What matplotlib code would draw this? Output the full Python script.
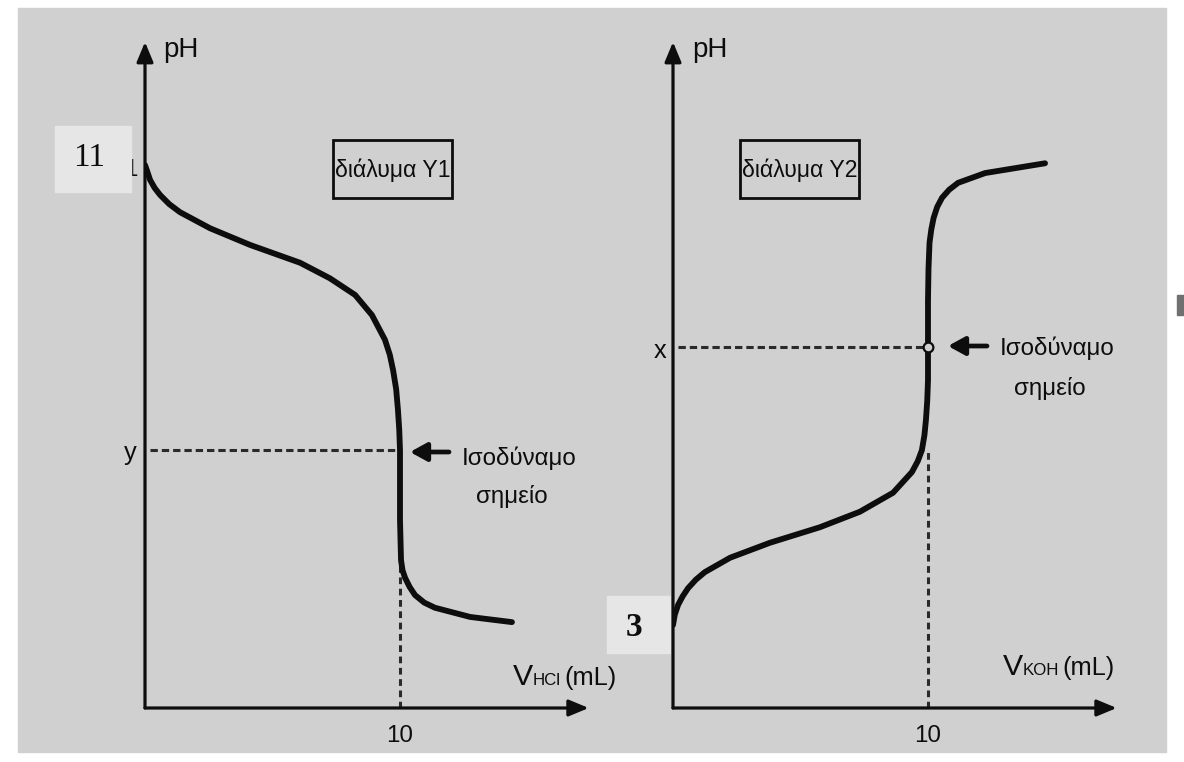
import matplotlib
matplotlib.use('Agg')
import matplotlib.pyplot as plt
from matplotlib.patches import Rectangle
from matplotlib import font_manager as fm

# ---------------- data ----------------
v_hcl = [0, 0.08, 0.2, 0.38, 0.59, 0.95, 1.37, 2.55, 4.12, 6.08, 7.25, 8.24, 8.90,
         9.41, 9.6, 9.73, 9.85, 9.92, 9.97, 10.0, 10.0, 10.04, 10.1, 10.2, 10.38,
         10.59, 10.95, 11.37, 12.75, 14.39]
ph_y1 = [11.0, 10.9, 10.74, 10.6, 10.48, 10.32, 10.18, 9.90, 9.61, 9.30, 9.03, 8.74,
         8.39, 7.96, 7.7, 7.43, 7.1, 6.74, 6.4, 6.04, 4.83, 4.13, 3.95, 3.82, 3.66,
         3.52, 3.39, 3.30, 3.14, 3.05]

v_koh = [0, 0.07, 0.2, 0.38, 0.59, 0.9, 1.25, 2.24, 3.8, 5.76, 7.33, 8.63, 9.37,
         9.6, 9.76, 9.86, 9.92, 9.97, 10.0, 10.0, 10.02, 10.06, 10.13, 10.22, 10.36,
         10.55, 10.83, 11.18, 12.24, 14.59]
ph_y2 = [3.0, 3.18, 3.35, 3.5, 3.64, 3.79, 3.92, 4.17, 4.43, 4.70, 4.97, 5.30, 5.66,
         5.85, 6.04, 6.3, 6.57, 6.9, 7.26, 8.65, 9.2, 9.65, 9.88, 10.08, 10.27,
         10.43, 10.57, 10.69, 10.86, 11.03]

v_eq = 10
ph_eq_y1 = 6.04       # "y"
ph_eq_y1_foot = 4.13  # where the vertical dashed line starts (left)
ph_eq_y2 = 7.83       # "x"
ph_eq_y2_foot = 6.04  # where the vertical dashed line starts (right)
tick_label = '10'
panel_titles = ['διάλυμα Y1', 'διάλυμα Y2']

# ---------------- layout helpers ----------------
W, H = 1184, 762
XPX, YPX = 25.5, 57.5          # px per mL, px per pH unit
AX_Y = 708                     # pixel row of the x axes
XMAX = 17.4
YLO = 11 - (AX_Y - 165) / YPX
YHI = 11 + (165 - 42) / YPX

names = {f.name for f in fm.fontManager.ttflist}
NARROW = 'Liberation Sans Narrow' if 'Liberation Sans Narrow' in names else 'Liberation Sans'
k = 1.0 if NARROW == 'Liberation Sans Narrow' else 0.87
SANS = [NARROW, 'DejaVu Sans']
SERIF = ['Liberation Serif', 'DejaVu Serif']
INK = '#0d0d0d'
BG = '#d0d0d0'

fig = plt.figure(figsize=(W / 100, H / 100), dpi=100)
fig.patch.set_facecolor('white')

bg = fig.add_axes([0, 0, 1, 1])
bg.set_xlim(0, W)
bg.set_ylim(H, 0)
bg.axis('off')
bg.add_patch(Rectangle((18, 8), 1148, 744, color=BG, zorder=0))
bg.add_patch(Rectangle((1177, 295), 7, 20, color='#707070', zorder=0))


def make_axes(x0):
    ax = fig.add_axes([x0 / W, (H - AX_Y) / H, XMAX * XPX / W, (YHI - YLO) * YPX / H])
    ax.set_xlim(0, XMAX)
    ax.set_ylim(YLO, YHI)
    ax.patch.set_alpha(0)
    for s in ax.spines.values():
        s.set_visible(False)
    ax.set_xticks([])
    ax.set_yticks([])
    ap = dict(arrowstyle='-|>,head_length=1.2,head_width=0.5', mutation_scale=10,
              lw=2.3, color=INK, shrinkA=0, shrinkB=0)
    ax.annotate('', xy=(XMAX, YLO), xytext=(0, YLO), arrowprops=ap, annotation_clip=False)
    ax.annotate('', xy=(0, YHI), xytext=(0, YLO), arrowprops=ap, annotation_clip=False)
    ax.annotate(tick_label, xy=(v_eq, YLO), xytext=(0, -12), textcoords='offset points',
                ha='center', va='top', fontsize=20 * k, family=SANS, color=INK,
                annotation_clip=False)
    return ax


axL = make_axes(145)
axR = make_axes(673)

dash = (0, (2.4, 1.3))
# left panel
axL.plot([0.2, v_eq], [ph_eq_y1, ph_eq_y1], color='#2a2a2a', lw=2.2, ls=dash)
axL.plot([v_eq, v_eq], [YLO, ph_eq_y1_foot], color='#2a2a2a', lw=2.2, ls=(0, (2.2, 1.5)))
axL.plot(v_hcl, ph_y1, color=INK, lw=4.2, solid_capstyle='round', solid_joinstyle='round')
# right panel
axR.plot([0.2, v_eq - 0.2], [ph_eq_y2, ph_eq_y2], color='#2a2a2a', lw=2.2, ls=dash)
axR.plot([v_eq, v_eq], [YLO, ph_eq_y2_foot], color='#2a2a2a', lw=2.2, ls=(0, (2.2, 1.5)))
axR.plot(v_koh, ph_y2, color=INK, lw=4.2, solid_capstyle='round', solid_joinstyle='round')
axR.plot([v_eq], [ph_eq_y2], 'o', ms=7, mfc=BG, mec=INK, mew=1.6, zorder=5)

# ---------------- annotations (pixel coordinates) ----------------
for xp in (163, 692):
    bg.text(xp, 57, 'pH', fontsize=23 * k, family=SANS, color=INK, va='baseline', ha='left')

# panel title boxes
for (bx, title) in ((333, panel_titles[0]), (740, panel_titles[1])):
    bg.add_patch(Rectangle((bx, 140), 119, 58, fill=False, ec=INK, lw=2.0, zorder=3))
    bg.text(bx + 59.5, 170, title, fontsize=19 * k, family=SANS, color=INK,
            ha='center', va='center')

# "11" and "3" labels
bg.text(137, 176, '1', fontsize=20 * k, family=SANS, color=INK, ha='right', va='baseline', zorder=1)
bg.add_patch(Rectangle((55, 126), 76, 66, color='#e6e6e6', zorder=2))
bg.text(89, 166, '11', fontsize=24, family=SERIF, color=INK, ha='center', va='baseline', zorder=3)
bg.add_patch(Rectangle((607, 596), 63, 57, color='#e6e6e6', zorder=2))
bg.text(634, 636, '3', fontsize=24, family=SERIF, weight='bold', color=INK,
        ha='center', va='baseline', zorder=3)

# y / x labels
bg.text(130, 460, 'y', fontsize=21 * k, family=SANS, color=INK, ha='center', va='baseline')
bg.text(660, 358, 'x', fontsize=21 * k, family=SANS, color=INK, ha='center', va='baseline')

# equivalence point arrows and labels
arr = dict(arrowstyle='-|>,head_length=1.0,head_width=0.55', mutation_scale=10,
           lw=3.4, color=INK, shrinkA=0, shrinkB=0)
bg.annotate('', xy=(410, 452), xytext=(449, 452), arrowprops=arr)
bg.annotate('', xy=(948, 346), xytext=(987, 346), arrowprops=arr)
bg.text(462, 465, 'Ισοδύναμο', fontsize=20 * k, family=SANS, color=INK, ha='left', va='baseline')
bg.text(512, 503, 'σημείο', fontsize=20 * k, family=SANS, color=INK, ha='center', va='baseline')
bg.text(1000, 355, 'Ισοδύναμο', fontsize=20 * k, family=SANS, color=INK, ha='left', va='baseline')
bg.text(1050, 395, 'σημείο', fontsize=20 * k, family=SANS, color=INK, ha='center', va='baseline')

# axis titles: "V" + small-caps subscript + "(mL)", laid out side by side
renderer = fig.canvas.get_renderer()
for (x0, base, sub) in ((513, 685, 'HCl'), (1003, 675, 'KOH')):
    x = x0
    for s, fs, gap in (('V', 25 * k, 0), (sub, 14 * k, 3), ('(mL)', 21 * k, 0)):
        t = bg.text(x, base, s, fontsize=fs, family=SANS, color=INK, ha='left', va='baseline')
        ext = t.get_window_extent(renderer)
        x = x + ext.width + gap

fig.savefig('out.png', dpi=100, facecolor='white')
